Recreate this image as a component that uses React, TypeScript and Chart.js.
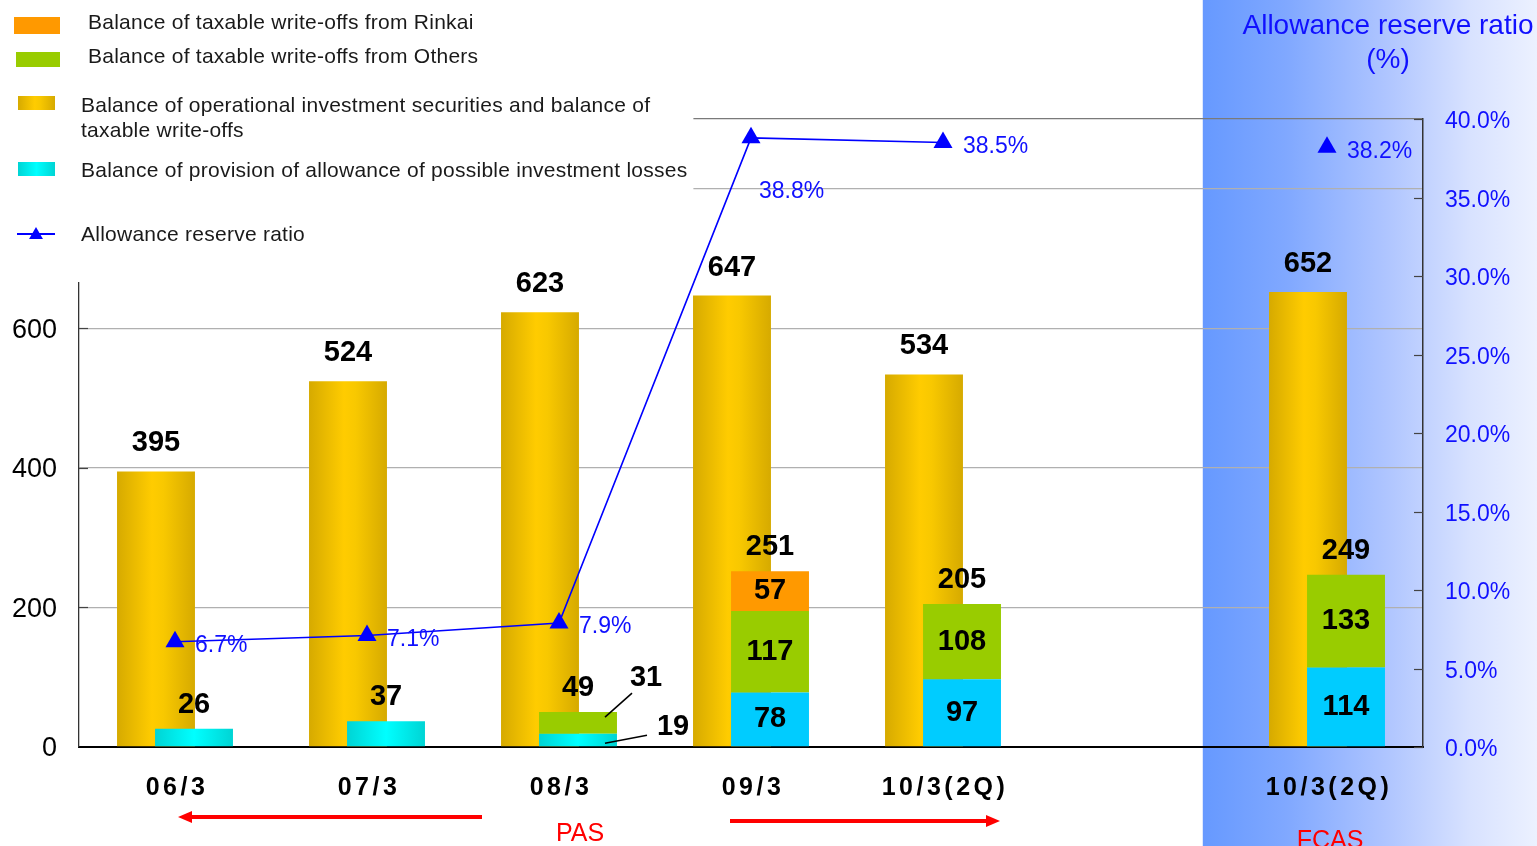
import React, { useEffect, useRef } from 'react';
import { Chart, registerables } from 'chart.js';

Chart.register(...registerables);

// ---------------- data ----------------
const categories = ['06/3', '07/3', '08/3', '09/3', '10/3(2Q)', '', '10/3(2Q)'];
const securitiesBalance = [395, 524, 623, 647, 534, null, 652];
const allowanceProvision = [26, 37, 19, 78, 97, null, 114];
const writeOffsOthers = [null, null, 31, 117, 108, null, 133];
const writeOffsRinkai = [null, null, null, 57, null, null, null];
const stackTotals = [26, 37, 49, 251, 205, null, 249];
const reserveRatio = [6.7, 7.1, 7.9, 38.8, 38.5, null, 38.2];
const leftTicks = [0, 200, 400, 600, 800, 900];
const rightTicks = [0, 5, 10, 15, 20, 25, 30, 35, 40];

const legendLabels = [
  'Balance of taxable write-offs from Rinkai',
  'Balance of taxable write-offs from Others',
  'Balance of operational investment securities and balance of',
  'taxable write-offs',
  'Balance of provision of allowance of possible investment losses',
  'Allowance reserve ratio',
];

const FONT = "'Liberation Sans', Arial, sans-serif";
const CAT_PCT = 0.396;
const BAR_PCT = 2.05;
const BLUE = '#1010ff';

// dataset indices
const LINE = 0;
const GOLD = 1;
const SEGS = [2, 3, 4];

function goldGradient(ctx: CanvasRenderingContext2D, x0: number, x1: number) {
  const g = ctx.createLinearGradient(x0, 0, x1, 0);
  g.addColorStop(0, '#d6aa00');
  g.addColorStop(0.45, '#ffcc00');
  g.addColorStop(0.6, '#f8c800');
  g.addColorStop(1, '#d6aa00');
  return g;
}
function cyanGradient(ctx: CanvasRenderingContext2D, x0: number, x1: number) {
  const g = ctx.createLinearGradient(x0, 0, x1, 0);
  g.addColorStop(0, '#00d4d4');
  g.addColorStop(0.5, '#00ffff');
  g.addColorStop(1, '#00d4d4');
  return g;
}

function barSpan(chart: any, index: number, side: number) {
  const xs = chart.scales.x;
  const catW = chart.chartArea.width / categories.length;
  const cx = xs.getPixelForValue(index) + side * (catW * CAT_PCT) / 4;
  const half = ((catW * CAT_PCT) / 2) * BAR_PCT / 2;
  return [cx - half, cx + half];
}

function drawArrow(ctx: CanvasRenderingContext2D, x0: number, x1: number, y: number) {
  const dir = Math.sign(x1 - x0);
  const head = 14;
  ctx.save();
  ctx.strokeStyle = '#ff0000';
  ctx.fillStyle = '#ff0000';
  ctx.lineWidth = 4;
  ctx.beginPath();
  ctx.moveTo(x0, y);
  ctx.lineTo(x1 - dir * head, y);
  ctx.stroke();
  ctx.beginPath();
  ctx.moveTo(x1, y);
  ctx.lineTo(x1 - dir * head, y - 6);
  ctx.lineTo(x1 - dir * head, y + 6);
  ctx.closePath();
  ctx.fill();
  ctx.restore();
}

function triangle(ctx: CanvasRenderingContext2D, x: number, y: number, r: number) {
  ctx.beginPath();
  ctx.moveTo(x, y - r);
  ctx.lineTo(x + r * 0.866, y + r / 2);
  ctx.lineTo(x - r * 0.866, y + r / 2);
  ctx.closePath();
  ctx.fill();
}

const decorPlugin = {
  id: 'decor',
  beforeDraw(chart: any) {
    const { ctx, width, height } = chart;
    const xs = chart.scales.x;
    const catW = chart.chartArea.width / categories.length;
    ctx.save();
    ctx.fillStyle = '#ffffff';
    ctx.fillRect(0, 0, width, height);
    const panelLeft = xs.getPixelForValue(5) + catW * 0.353;
    const g = ctx.createLinearGradient(panelLeft, 0, width, 0);
    g.addColorStop(0, '#6699ff');
    g.addColorStop(0.25, '#80a8ff');
    g.addColorStop(0.55, '#afc5ff');
    g.addColorStop(0.8, '#d8e2ff');
    g.addColorStop(1, '#ecf1ff');
    ctx.fillStyle = g;
    ctx.fillRect(panelLeft, 0, width - panelLeft, height);
    ctx.restore();
  },
  beforeDatasetsDraw(chart: any) {
    const { ctx, chartArea } = chart;
    const xs = chart.scales.x;
    const catW = chartArea.width / categories.length;
    // legend box covering the upper left of the grid
    ctx.save();
    ctx.fillStyle = '#ffffff';
    ctx.fillRect(0, 0, xs.getPixelForValue(3) - catW * 0.3, 282);
    ctx.restore();
    // inward tick marks of both value axes
    ctx.save();
    ctx.strokeStyle = '#444';
    ctx.lineWidth = 1.2;
    const ys2 = chart.scales.y2;
    ys2.ticks.forEach((t: any) => {
      const y = Math.round(ys2.getPixelForValue(t.value)) + 0.5;
      ctx.beginPath();
      ctx.moveTo(chartArea.right - 9, y);
      ctx.lineTo(chartArea.right, y);
      ctx.stroke();
    });
    const ys = chart.scales.y;
    ys.ticks.forEach((t: any) => {
      if (t.value === 0 || t.value > 600) return;
      const y = Math.round(ys.getPixelForValue(t.value)) + 0.5;
      ctx.beginPath();
      ctx.moveTo(chartArea.left, y);
      ctx.lineTo(chartArea.left + 9, y);
      ctx.stroke();
    });
    ctx.restore();
    // the gold bars go behind the stacked bars: draw them first
    const gm = chart.getDatasetMeta(GOLD);
    if (gm && gm.controller) gm.controller.draw();
  },
  beforeDatasetDraw(chart: any, args: any) {
    if (args.index === GOLD) return false;
    return true;
  },
  afterDatasetsDraw(chart: any) {
    const { ctx } = chart;
    ctx.save();
    ctx.textAlign = 'center';
    ctx.textBaseline = 'middle';
    ctx.fillStyle = '#000';
    const valueFont = `bold 29px ${FONT}`;
    ctx.font = valueFont;
    // gold bar labels
    const goldMeta = chart.getDatasetMeta(GOLD);
    goldMeta.data.forEach((el: any, i: number) => {
      const v = securitiesBalance[i];
      if (v == null) return;
      ctx.fillText(String(v), el.x, el.y - 28);
    });
    // stack labels
    const segMetas = SEGS.map((k) => chart.getDatasetMeta(k));
    const segData = [allowanceProvision, writeOffsOthers, writeOffsRinkai];
    categories.forEach((_, i) => {
      const segs: any[] = [];
      segMetas.forEach((m, k) => {
        const v = segData[k][i];
        if (v != null && v !== 0) segs.push({ el: m.data[i], v });
      });
      if (!segs.length) return;
      const top = segs[segs.length - 1].el;
      ctx.font = valueFont;
      ctx.textAlign = 'center';
      if (stackTotals[i] != null) {
        ctx.fillText(String(stackTotals[i]), top.x, top.y - 24);
      }
      if (segs.length < 2) return;
      let smallRank = 0;
      for (let s = segs.length - 1; s >= 0; s--) {
        const { el, v } = segs[s];
        const h = el.base - el.y;
        if (h >= 30) {
          ctx.fillText(String(v), el.x, (el.y + el.base) / 2);
        } else {
          ctx.save();
          ctx.strokeStyle = '#000';
          ctx.lineWidth = 1.5;
          ctx.beginPath();
          if (smallRank === 0) {
            ctx.moveTo(el.x + 27, el.y + 5);
            ctx.lineTo(el.x + 54, el.y - 19);
            ctx.stroke();
            ctx.fillText(String(v), el.x + 68, el.y - 34);
          } else {
            ctx.moveTo(el.x + 27, el.base - 3);
            ctx.lineTo(el.x + 69, el.base - 11);
            ctx.stroke();
            ctx.fillText(String(v), el.x + 95, el.base - 19);
          }
          ctx.restore();
          smallRank++;
        }
      }
    });
    // ratio labels
    const lineMeta = chart.getDatasetMeta(LINE);
    ctx.fillStyle = BLUE;
    ctx.font = `23px ${FONT}`;
    ctx.textAlign = 'left';
    lineMeta.data.forEach((pt: any, i: number) => {
      const v = reserveRatio[i];
      if (v == null) return;
      const prev = i > 0 ? reserveRatio[i - 1] : null;
      const t = v.toFixed(1) + '%';
      if (prev != null && v - prev > 10) {
        ctx.fillText(t, pt.x + 8, pt.y + 54);
      } else {
        ctx.fillText(t, pt.x + 20, pt.y + 4);
      }
    });
    ctx.restore();
  },
  afterDraw(chart: any) {
    const { ctx, chartArea } = chart;
    const xs = chart.scales.x;
    ctx.save();
    // category labels
    ctx.fillStyle = '#000';
    ctx.font = `bold 25px ${FONT}`;
    ctx.textAlign = 'center';
    ctx.textBaseline = 'middle';
    (ctx as any).letterSpacing = '3.5px';
    categories.forEach((c, i) => {
      if (!c) return;
      ctx.fillText(c, xs.getPixelForValue(i) + 2, chartArea.bottom + 41);
    });
    (ctx as any).letterSpacing = '0px';
    // right axis title
    ctx.fillStyle = BLUE;
    ctx.font = `28px ${FONT}`;
    ctx.fillText('Allowance reserve ratio', chartArea.right - 35, 26);
    ctx.fillText('(%)', chartArea.right - 35, 60);
    // legend
    ctx.save();
    ctx.fillStyle = '#ff9900';
    ctx.fillRect(14, 17, 46, 17);
    ctx.fillStyle = '#99cc00';
    ctx.fillRect(16, 52, 44, 15);
    ctx.fillStyle = goldGradient(ctx, 18, 55);
    ctx.fillRect(18, 96, 37, 14);
    ctx.fillStyle = cyanGradient(ctx, 18, 55);
    ctx.fillRect(18, 162, 37, 14);
    ctx.strokeStyle = '#0000ff';
    ctx.lineWidth = 2;
    ctx.beginPath();
    ctx.moveTo(17, 234);
    ctx.lineTo(55, 234);
    ctx.stroke();
    ctx.fillStyle = '#0000ff';
    triangle(ctx, 36, 235, 8);
    ctx.restore();
    ctx.textAlign = 'left';
    ctx.fillStyle = '#1a1a1a';
    ctx.font = `21px ${FONT}`;
    (ctx as any).letterSpacing = '0.25px';
    ctx.fillText(legendLabels[0], 88, 23);
    ctx.fillText(legendLabels[1], 88, 57);
    ctx.fillText(legendLabels[2], 81, 106);
    ctx.fillText(legendLabels[3], 81, 131);
    ctx.fillText(legendLabels[4], 81, 171);
    ctx.fillText(legendLabels[5], 81, 235);
    (ctx as any).letterSpacing = '0px';
    // PAS / FCAS arrows
    const c0 = xs.getPixelForValue(0);
    const c2 = xs.getPixelForValue(2);
    const c3 = xs.getPixelForValue(3);
    const c4 = xs.getPixelForValue(4);
    const c6 = xs.getPixelForValue(6);
    drawArrow(ctx, c2 - 77, c0 + 3, chartArea.bottom + 70);
    drawArrow(ctx, c3 - 21, c4 + 57, chartArea.bottom + 74);
    ctx.fillStyle = '#ff0000';
    ctx.font = `25px ${FONT}`;
    ctx.textAlign = 'center';
    ctx.textBaseline = 'alphabetic';
    ctx.fillText('PAS', c2 + 21, chartArea.bottom + 94);
    ctx.fillText('FCAS', c6 + 3, chartArea.bottom + 101);
    ctx.restore();
  },
};

export default function App() {
  const ref = useRef<HTMLCanvasElement>(null);
  useEffect(() => {
    if (!ref.current) return;
    const chart = new Chart(ref.current, {
      type: 'bar',
      data: {
        labels: categories,
        datasets: [
          {
            type: 'line',
            label: legendLabels[5],
            data: reserveRatio,
            yAxisID: 'y2',
            order: 0,
            borderColor: '#0000ff',
            borderWidth: 1.6,
            backgroundColor: '#0000ff',
            pointStyle: 'triangle',
            pointRadius: 11,
            pointBorderWidth: 0,
            spanGaps: false,
            tension: 0,
          } as any,
          {
            type: 'bar',
            label: legendLabels[2],
            data: securitiesBalance,
            yAxisID: 'y',
            stack: 'g',
            order: 1,
            backgroundColor: (c: any) => {
              if (c.type !== 'data' || !c.chart.chartArea) return '#fccc00';
              const [a, b] = barSpan(c.chart, c.dataIndex, -1);
              return goldGradient(c.chart.ctx, a, b);
            },
          },
          {
            type: 'bar',
            label: legendLabels[4],
            data: allowanceProvision,
            yAxisID: 'y',
            stack: 's',
            order: 1,
            backgroundColor: (c: any) => {
              if (c.type !== 'data' || !c.chart.chartArea) return '#00ccff';
              if (c.dataIndex >= 3) return '#00ccff';
              const [a, b] = barSpan(c.chart, c.dataIndex, 1);
              return cyanGradient(c.chart.ctx, a, b);
            },
          },
          { type: 'bar', label: legendLabels[1], data: writeOffsOthers, yAxisID: 'y', stack: 's', order: 1, backgroundColor: '#99cc00' },
          { type: 'bar', label: legendLabels[0], data: writeOffsRinkai, yAxisID: 'y', stack: 's', order: 1, backgroundColor: '#ff9900' },
        ],
      },
      options: {
        responsive: false,
        animation: false,
        events: [],
        layout: { padding: { top: 119, left: 0, right: 0, bottom: 0 } },
        datasets: { bar: { categoryPercentage: CAT_PCT, barPercentage: BAR_PCT, borderWidth: 0 } } as any,
        plugins: { legend: { display: false }, tooltip: { enabled: false }, title: { display: false } },
        scales: {
          x: {
            type: 'category',
            offset: true,
            position: 'bottom',
            grid: { display: false, drawTicks: false },
            border: { display: true, color: '#000', width: 2 },
            ticks: { display: false },
            afterFit: (s: any) => { s.height = 99; },
          },
          y: {
            type: 'linear',
            position: 'left',
            stacked: true,
            min: 0,
            max: 900,
            afterBuildTicks: (s: any) => { s.ticks = leftTicks.map((v) => ({ value: v })); },
            grid: {
              drawTicks: false,
              color: (c: any) => (c.tick && c.tick.value === 900 ? '#7a7a7a' : c.tick && c.tick.value === 0 ? 'rgba(0,0,0,0)' : '#b0b0b0'),
              lineWidth: 1.3,
            },
            border: { display: true, color: '#333', width: 1.3 },
            ticks: {
              padding: 22,
              labelOffset: 2,
              color: '#000',
              font: { family: FONT, size: 27 },
              callback: (v: any) => (Number(v) <= 600 ? String(v) : ''),
            },
            afterFit: (s: any) => { s.width = 79; },
          },
          y2: {
            type: 'linear',
            position: 'right',
            min: 0,
            max: 40,
            afterBuildTicks: (s: any) => { s.ticks = rightTicks.map((v) => ({ value: v })); },
            grid: { drawOnChartArea: false, drawTicks: false },
            border: { display: true, color: '#333', width: 1.5 },
            ticks: {
              padding: 22,
              labelOffset: 3,
              color: BLUE,
              font: { family: FONT, size: 23 },
              callback: (v: any) => Number(v).toFixed(1) + '%',
            },
            afterFit: (s: any) => { s.width = 114; },
          },
        },
      } as any,
      plugins: [decorPlugin],
    });
    return () => chart.destroy();
  }, []);
  return (
    <div style={{ position: 'fixed', left: 0, top: 0, width: 1537, height: 846, background: '#fff' }}>
      <canvas ref={ref} width={1537} height={846} style={{ display: 'block' }} />
    </div>
  );
}
